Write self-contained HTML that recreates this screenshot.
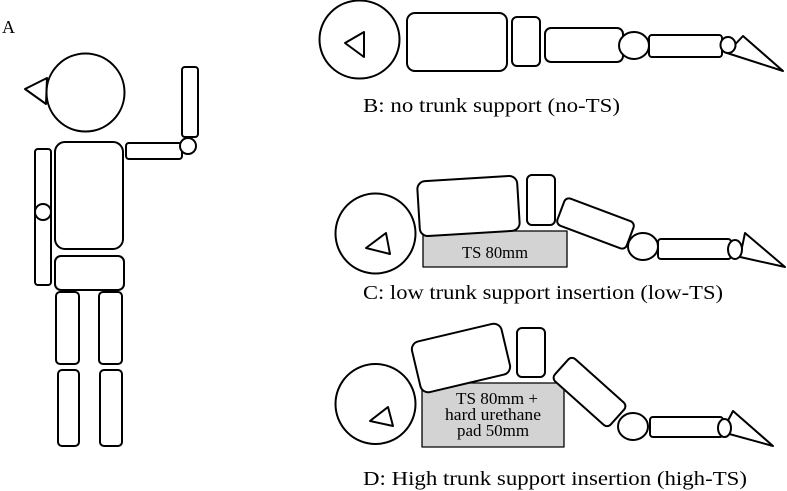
<!DOCTYPE html>
<html><head><meta charset="utf-8"><style>
html,body{margin:0;padding:0;background:#fff;}
svg{display:block;}
text{font-family:"Liberation Serif","Noto Serif CJK SC",serif;fill:#000;}
</style></head><body>
<svg width="787" height="491" viewBox="0 0 787 491" xmlns="http://www.w3.org/2000/svg">
<g fill="#fff" stroke="#000" stroke-width="2" stroke-linejoin="round">
<!-- A -->
<polygon points="25,89 47,78 46,104"/>
<circle cx="85.5" cy="92.5" r="39"/>
<rect x="182" y="67" width="16" height="70" rx="3"/>
<rect x="126" y="143" width="56" height="16" rx="3"/>
<circle cx="188" cy="146" r="8"/>
<rect x="35" y="149" width="16" height="136" rx="3"/>
<circle cx="43" cy="212" r="8"/>
<rect x="55" y="142" width="68" height="107" rx="10"/>
<rect x="55" y="256" width="69" height="34" rx="6"/>
<rect x="56" y="292" width="23" height="72" rx="4"/>
<rect x="99" y="292" width="23" height="72" rx="4"/>
<rect x="58" y="370" width="21" height="76" rx="4"/>
<rect x="100" y="370" width="22" height="76" rx="4"/>
<!-- B -->
<ellipse cx="359.5" cy="39.5" rx="40" ry="39"/>
<polygon points="345,43 364,32 364,57"/>
<rect x="407" y="13" width="100" height="58" rx="8"/>
<rect x="512" y="17" width="28" height="49" rx="5"/>
<rect x="545" y="28" width="78" height="34" rx="6"/>
<polygon points="743,36 783,71 727,53"/>
<ellipse cx="634" cy="45.5" rx="15" ry="13.5"/>
<rect x="649" y="35" width="73" height="22" rx="3"/>
<ellipse cx="728" cy="45" rx="7.5" ry="8"/>
<!-- C -->
<rect x="423" y="231" width="144" height="36" fill="#d3d3d3" stroke-width="1.3"/>
<circle cx="375.5" cy="233.5" r="40"/>
<polygon points="366,248 386,233 390,254"/>
<rect x="418.5" y="178.5" width="100" height="55" rx="8" transform="rotate(-3.5 468.5 206)"/>
<rect x="527" y="175" width="28" height="50" rx="5"/>
<rect x="558.5" y="209" width="74" height="29" rx="5" transform="rotate(20.6 595.5 223.5)"/>
<polygon points="745,233 785,267 740,257"/>
<ellipse cx="643" cy="246.5" rx="15" ry="13.5"/>
<rect x="658" y="239" width="73" height="20" rx="3"/>
<ellipse cx="735" cy="249.5" rx="7" ry="9.5"/>
<!-- D -->
<rect x="422" y="383" width="142" height="64" fill="#d3d3d3" stroke-width="1.3"/>
<circle cx="375.5" cy="404" r="40"/>
<polygon points="370,421 388,407 393,426"/>
<rect x="415" y="332" width="92" height="52" rx="8" transform="rotate(-13.3 461 358)"/>
<rect x="517" y="328" width="28" height="49" rx="5"/>
<rect x="552" y="377" width="75" height="30" rx="5" transform="rotate(41.8 589.5 392)"/>
<polygon points="733,411 773,446 722,432"/>
<ellipse cx="633" cy="426.5" rx="15" ry="13.5"/>
<rect x="650" y="417" width="73" height="20" rx="3"/>
<ellipse cx="724.5" cy="428" rx="6.5" ry="9"/>
</g>
<text x="2" y="33" font-size="18">A</text>
<text x="363" y="112" font-size="20" textLength="257" lengthAdjust="spacingAndGlyphs">B: no trunk support (no-TS)</text>
<text x="363" y="299" font-size="20" textLength="360" lengthAdjust="spacingAndGlyphs">C: low trunk support insertion (low-TS)</text>
<text x="363" y="485" font-size="20" textLength="384" lengthAdjust="spacingAndGlyphs">D: High trunk support insertion (high-TS)</text>
<text x="462" y="258" font-size="17" textLength="66" lengthAdjust="spacingAndGlyphs">TS 80mm</text>
<text x="456" y="404" font-size="17" textLength="82" lengthAdjust="spacingAndGlyphs">TS 80mm +</text>
<text x="445" y="420" font-size="17" textLength="96" lengthAdjust="spacingAndGlyphs">hard urethane</text>
<text x="457" y="436" font-size="17" textLength="72" lengthAdjust="spacingAndGlyphs">pad 50mm</text>
</svg>
</body></html>
